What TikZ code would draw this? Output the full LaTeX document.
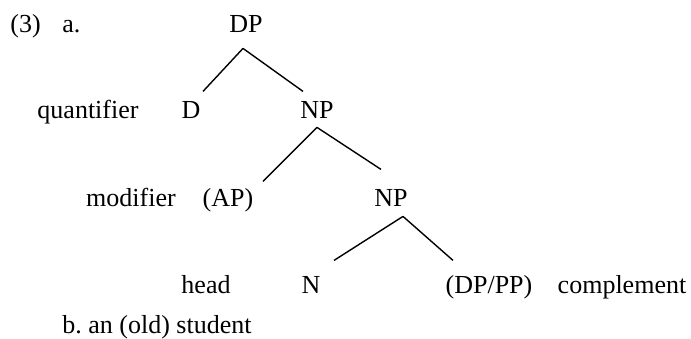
\documentclass[tikz,border=0pt]{standalone}
\usepackage{fontspec}
\setmainfont{Liberation Serif}
\usepackage{tikz}

\begin{document}
\begin{tikzpicture}[x=0.5pt, y=-0.5pt,
  every node/.style={font=\fontsize{13}{15}\selectfont, inner sep=0pt, anchor=base},
  cat/.style={text height=8.6pt, text depth=0pt},
  branch/.style={line width=0.7pt}]
  \useasboundingbox (0,0) rectangle (691,338);

  % Example number
  \node[anchor=base west] (num) at (10,32) {(3)};
  \node[anchor=base west] (exa) at (62,32) {a.};

  % Categories
  \node[cat] (dp)   at (246,32)  {DP};
  \node[cat] (d)    at (191,118) {D};
  \node[cat] (np1)  at (317,118) {NP};
  \node[cat] (ap)   at (228,206) {(AP)};
  \node[cat] (np2)  at (391,206) {NP};
  \node[cat] (n)    at (311,293) {N};
  \node[cat] (dppp) at (489,293) {(DP/PP)};

  % Function labels
  \node (quant) at (88,118)  {quantifier};
  \node (modif) at (131,206) {modifier};
  \node (head)  at (206,293) {head};
  \node (compl) at (622,293) {complement};

  % Branches
  \draw[branch] ([shift={(-3,16)}]dp.south) -- ([shift={(12,-9)}]d.north);
  \draw[branch] ([shift={(-3,16)}]dp.south) -- ([shift={(-14,-9)}]np1.north);
  \draw[branch] ([shift={(0,9)}]np1.south) -- ([shift={(35,-7)}]ap.north);
  \draw[branch] ([shift={(0,9)}]np1.south) -- ([shift={(-10,-19)}]np2.north);
  \draw[branch] ([shift={(12,10)}]np2.south) -- ([shift={(23,-15)}]n.north);
  \draw[branch] ([shift={(12,10)}]np2.south) -- ([shift={(-36,-15)}]dppp.north);

  % Example b
  \node[anchor=base west] (exb) at (62,333) {b.\ an (old) student};
\end{tikzpicture}
\end{document}
